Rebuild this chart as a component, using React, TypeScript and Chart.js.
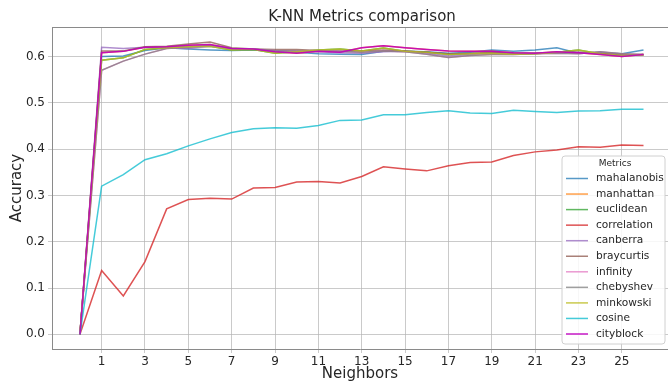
import React, { useEffect, useRef } from "react";
import { Chart, registerables } from "chart.js";

Chart.register(...registerables);

const neighbors = [0, 1, 2, 3, 4, 5, 6, 7, 8, 9, 10, 11, 12, 13, 14, 15, 16, 17, 18, 19, 20, 21, 22, 23, 24, 25, 26];
const xTicks = [1, 3, 5, 7, 9, 11, 13, 15, 17, 19, 21, 23, 25];
const yTicks = [0, 0.1, 0.2, 0.3, 0.4, 0.5, 0.6];

const mahalanobis = [0, 0.600, 0.601, 0.613, 0.619, 0.616, 0.614, 0.613, 0.614, 0.612, 0.609, 0.606, 0.605, 0.604, 0.611, 0.611, 0.610, 0.607, 0.609, 0.614, 0.611, 0.614, 0.619, 0.607, 0.609, 0.606, 0.614];
const cityblock = [0, 0.608, 0.611, 0.620, 0.621, 0.624, 0.626, 0.617, 0.616, 0.610, 0.607, 0.611, 0.609, 0.619, 0.623, 0.619, 0.615, 0.612, 0.611, 0.611, 0.608, 0.607, 0.610, 0.608, 0.604, 0.600, 0.604];
const manhattan = [0, 0.608, 0.611, 0.620, 0.621, 0.624, 0.626, 0.617, 0.616, 0.610, 0.607, 0.611, 0.609, 0.619, 0.623, 0.619, 0.615, 0.612, 0.611, 0.611, 0.608, 0.607, 0.610, 0.608, 0.604, 0.600, 0.604];
const minkowski = [0, 0.592, 0.597, 0.615, 0.619, 0.621, 0.622, 0.614, 0.615, 0.607, 0.610, 0.614, 0.616, 0.612, 0.618, 0.611, 0.609, 0.604, 0.606, 0.607, 0.605, 0.606, 0.609, 0.614, 0.606, 0.602, 0.603];
const euclidean = [0, 0.592, 0.597, 0.615, 0.619, 0.621, 0.622, 0.614, 0.615, 0.607, 0.610, 0.614, 0.616, 0.612, 0.618, 0.611, 0.609, 0.604, 0.606, 0.607, 0.605, 0.606, 0.609, 0.614, 0.606, 0.602, 0.603];
const correlation = [0, 0.138, 0.083, 0.157, 0.271, 0.291, 0.294, 0.292, 0.316, 0.317, 0.329, 0.330, 0.327, 0.341, 0.362, 0.357, 0.353, 0.364, 0.371, 0.372, 0.386, 0.394, 0.398, 0.405, 0.404, 0.409, 0.408];
const canberra = [0, 0.620, 0.617, 0.620, 0.618, 0.617, 0.622, 0.616, 0.616, 0.611, 0.612, 0.610, 0.608, 0.607, 0.610, 0.611, 0.607, 0.601, 0.604, 0.608, 0.606, 0.607, 0.609, 0.609, 0.606, 0.603, 0.604];
const braycurtis = [0, 0.612, 0.612, 0.621, 0.622, 0.627, 0.631, 0.619, 0.616, 0.615, 0.615, 0.613, 0.612, 0.612, 0.614, 0.612, 0.609, 0.606, 0.607, 0.609, 0.607, 0.607, 0.608, 0.609, 0.607, 0.605, 0.605];
const chebyshev = [0, 0.570, 0.590, 0.605, 0.617, 0.620, 0.624, 0.617, 0.616, 0.613, 0.612, 0.612, 0.611, 0.609, 0.612, 0.610, 0.605, 0.598, 0.602, 0.604, 0.604, 0.606, 0.607, 0.606, 0.610, 0.606, 0.603];
const infinity = [0, 0.570, 0.590, 0.605, 0.617, 0.620, 0.624, 0.617, 0.616, 0.613, 0.612, 0.612, 0.611, 0.609, 0.612, 0.610, 0.605, 0.598, 0.602, 0.604, 0.604, 0.606, 0.607, 0.606, 0.610, 0.606, 0.603];
const cosine = [0, 0.320, 0.345, 0.377, 0.390, 0.407, 0.422, 0.436, 0.444, 0.446, 0.445, 0.451, 0.462, 0.463, 0.474, 0.474, 0.479, 0.483, 0.478, 0.477, 0.484, 0.481, 0.479, 0.482, 0.483, 0.486, 0.486];

const seriesNames = ["mahalanobis", "manhattan", "euclidean", "correlation", "canberra", "braycurtis", "infinity", "chebyshev", "minkowski", "cosine", "cityblock"];
const seriesValues = [mahalanobis, manhattan, euclidean, correlation, canberra, braycurtis, infinity, chebyshev, minkowski, cosine, cityblock];
const seriesColors = [
  "rgba(31,119,180,0.75)",
  "rgba(255,127,14,0.75)",
  "rgba(44,160,44,0.75)",
  "rgba(214,39,40,0.8)",
  "rgba(148,103,189,0.75)",
  "rgba(140,86,75,0.75)",
  "rgba(227,119,194,0.75)",
  "rgba(127,127,127,0.75)",
  "rgba(188,189,34,0.8)",
  "rgba(23,190,207,0.8)",
  "rgba(192,0,192,0.9)",
];

const FONT = "'DejaVu Sans', sans-serif";

const overlayPlugin = {
  id: "overlay",
  afterDraw(chart: any) {
    const ctx = chart.ctx;
    const area = chart.chartArea;
    ctx.save();
    ctx.strokeStyle = "#8a8a8a";
    ctx.lineWidth = 1;
    ctx.beginPath();
    ctx.moveTo(area.left, area.top + 0.5);
    ctx.lineTo(area.right, area.top + 0.5);
    ctx.stroke();
    ctx.fillStyle = "#262626";
    ctx.font = `15px ${FONT}`;
    ctx.textAlign = "center";
    ctx.textBaseline = "middle";
    ctx.fillText("K-NN Metrics comparison", 362, 17);
    const bx = 562, by = 156, bw = 103, bh = 188;
    ctx.fillStyle = "rgba(255,255,255,0.85)";
    ctx.strokeStyle = "#d0d0d0";
    ctx.lineWidth = 1;
    ctx.beginPath();
    const r = 3;
    ctx.moveTo(bx + r, by);
    ctx.lineTo(bx + bw - r, by);
    ctx.quadraticCurveTo(bx + bw, by, bx + bw, by + r);
    ctx.lineTo(bx + bw, by + bh - r);
    ctx.quadraticCurveTo(bx + bw, by + bh, bx + bw - r, by + bh);
    ctx.lineTo(bx + r, by + bh);
    ctx.quadraticCurveTo(bx, by + bh, bx, by + bh - r);
    ctx.lineTo(bx, by + r);
    ctx.quadraticCurveTo(bx, by, bx + r, by);
    ctx.closePath();
    ctx.fill();
    ctx.stroke();
    ctx.fillStyle = "#262626";
    ctx.font = `9px ${FONT}`;
    ctx.textAlign = "center";
    ctx.fillText("Metrics", 615, 164);
    ctx.font = `10.6px ${FONT}`;
    ctx.textAlign = "left";
    chart.data.datasets.forEach((ds: any, i: number) => {
      const y = 178.5 + i * 15.55;
      ctx.strokeStyle = ds.borderColor;
      ctx.lineWidth = 1.5;
      ctx.beginPath();
      ctx.moveTo(566, y);
      ctx.lineTo(588, y);
      ctx.stroke();
      ctx.fillStyle = "#262626";
      ctx.fillText(ds.label, 596, y);
    });
    ctx.restore();
  },
};

export default function App() {
  const ref = useRef<HTMLCanvasElement>(null);
  useEffect(() => {
    document.body.style.margin = "0";
    const canvas = ref.current!;
    const chart = new Chart(canvas, {
      type: "line",
      data: {
        labels: neighbors,
        datasets: seriesNames.map((name, i) => ({
          label: name,
          data: neighbors.map((x, j) => ({ x, y: seriesValues[i][j] })),
          borderColor: seriesColors[i],
          backgroundColor: seriesColors[i],
          borderWidth: 1.5,
          pointRadius: 0,
          tension: 0,
          fill: false,
          order: seriesNames.length - i,
        })),
      },
      options: {
        responsive: false,
        animation: false,
        events: [],
        layout: { padding: { top: 27, right: 0, left: 0, bottom: 0 } },
        plugins: {
          legend: { display: false },
          title: { display: false },
          tooltip: { enabled: false },
        },
        scales: {
          x: {
            type: "linear",
            min: -1.29,
            max: 27.13,
            afterFit: (s: any) => { s.height = 34; },
            afterBuildTicks: (s: any) => { s.ticks = xTicks.map((v) => ({ value: v })); },
            grid: { color: "rgba(180,180,180,0.7)", lineWidth: 1, tickLength: 4, drawTicks: true },
            border: { display: true, color: "#8a8a8a", width: 1 },
            ticks: {
              color: "#262626",
              font: { family: FONT, size: 12 },
              padding: 2,
              maxRotation: 0,
              autoSkip: false,
              callback: (v: any) => String(v),
            },
            title: {
              display: true,
              text: "Neighbors",
              color: "#262626",
              font: { family: FONT, size: 15 },
              padding: { top: 0, bottom: 0 },
            },
          },
          y: {
            type: "linear",
            min: -0.0316,
            max: 0.6636,
            afterFit: (s: any) => { s.width = 52; },
            afterBuildTicks: (s: any) => { s.ticks = yTicks.map((v) => ({ value: v })); },
            grid: { color: "rgba(180,180,180,0.7)", lineWidth: 1, tickLength: 4, drawTicks: true },
            border: { display: true, color: "#8a8a8a", width: 1 },
            ticks: {
              color: "#262626",
              font: { family: FONT, size: 12 },
              padding: 3,
              callback: (v: any) => Number(v).toFixed(1),
            },
            title: {
              display: true,
              text: "Accuracy",
              color: "#262626",
              font: { family: FONT, size: 15 },
              padding: { top: 8, bottom: 0 },
            },
          },
        },
      },
      plugins: [overlayPlugin],
    });
    return () => chart.destroy();
  }, []);
  return <canvas ref={ref} width={668} height={383} style={{ display: "block" }} />;
}
